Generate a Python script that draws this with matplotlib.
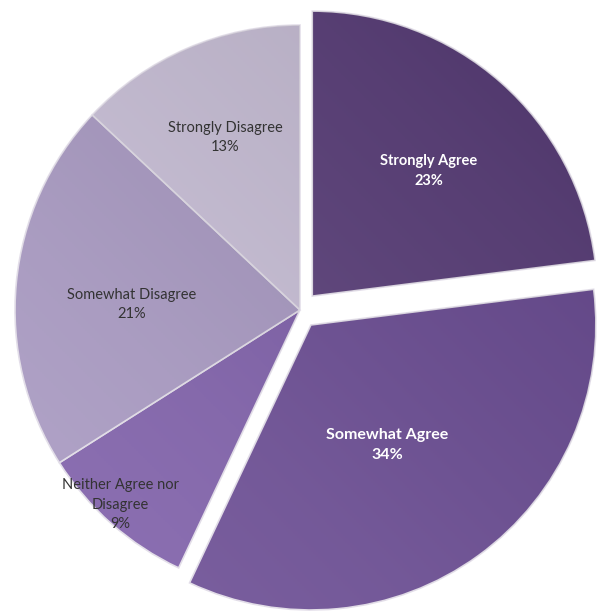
import numpy as np
import matplotlib as mpl
mpl.use("Agg")
import matplotlib.pyplot as plt

labels = ['Strongly Agree', 'Somewhat Agree', 'Neither Agree nor\nDisagree',
          'Somewhat Disagree', 'Strongly Disagree']
values = [23, 34, 9, 21, 13]
colors = ['#573a78', '#674792', '#7b5aa8', '#a696c1', '#c9bfd8']
explode = [0.065, 0.065, 0, 0, 0]
text_colors = ['white', 'white', '#333333', '#333333', '#333333']
text_weight = ['bold', 'bold', 'normal', 'normal', 'normal']
text_size = [10.5, 11.5, 10.5, 10.5, 10.5]
label_r = [0.60, 0.50, 0.93, 0.59, 0.66]
label_dang = [-1.5, -3.5, -1.3, 3.5, 0]

plt.rcParams['font.family'] = ['Lato', 'DejaVu Sans']

fig = plt.figure(figsize=(6.08, 6.14), dpi=100)
ax = fig.add_axes([0, 0, 1, 1])
wedges, _ = ax.pie(values, colors=colors, explode=explode, startangle=90,
                   counterclock=False, radius=1.0,
                   wedgeprops=dict(edgecolor='#e4dfea', linewidth=1.2))

# soft shading: lighter top-left, darker bottom-right
yy, xx = np.mgrid[-1.2:1.2:300j, -1.2:1.2:300j]
shade = (xx - yy) / 2.4
for w in wedges:
    im = ax.imshow(shade, extent=[-1.2, 1.2, -1.2, 1.2], origin='upper',
                   cmap='Greys', alpha=0.15, vmin=-1, vmax=1, zorder=w.get_zorder() + 0.1)
    im.set_clip_path(w)

for i, w in enumerate(wedges):
    ang = np.deg2rad((w.theta1 + w.theta2) / 2 + label_dang[i])
    cx, cy = w.center
    x = cx + label_r[i] * np.cos(ang)
    y = cy + label_r[i] * np.sin(ang)
    ax.text(x, y, f'{labels[i]}\n{values[i]}%', ha='center', va='center',
            fontsize=text_size[i], color=text_colors[i], fontweight=text_weight[i],
            linespacing=1.5, zorder=10)

ax.set_xlim(-300 / 285, 308 / 285)
ax.set_ylim(-304 / 285, 310 / 285)
ax.set_aspect('equal')
ax.axis('off')
fig.savefig('out.png', dpi=100)
